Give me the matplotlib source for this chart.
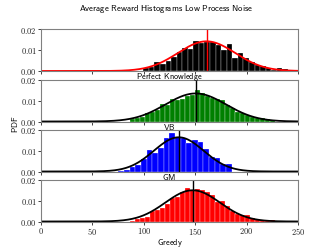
import numpy as np
import matplotlib
matplotlib.use("Agg")
import matplotlib.pyplot as plt

plt.rcParams['font.family'] = ['DejaVu Sans']
plt.rcParams['mathtext.fontset'] = 'cm'

title = "Average Reward Histograms Low Process Noise"
labels = ["Perfect Knowledge", "VB", "GM", "Greedy"]
colors = ["black", "green", "blue", "red"]
line_colors = ["red", "black", "black", "black"]

means = [161.0, 150.5, 134.0, 147.5]
sigmas = [27.9, 29.5, 24.2, 26.5]

bin_starts = [99.5, 86.6, 75.2, 86.6]
bin_widths = [5.41, 4.86, 5.51, 4.86]

heights_pk = [0.0013, 0.0020, 0.0042, 0.0032, 0.0048, 0.0069, 0.0090, 0.0110,
              0.0106, 0.0144, 0.0136, 0.0140, 0.0138, 0.0125, 0.0100, 0.0128,
              0.0061, 0.0085, 0.0064, 0.0042, 0.0030, 0.0024, 0.0013, 0.0005,
              0.0013, 0.0010]
heights_vb = [0.0010, 0.0016, 0.0024, 0.0042, 0.0045, 0.0057, 0.0085, 0.0081,
              0.0107, 0.0102, 0.0110, 0.0124, 0.0130, 0.0154, 0.0135, 0.0122,
              0.0114, 0.0110, 0.0102, 0.0078, 0.0067, 0.0045, 0.0040, 0.0030,
              0.0021, 0.0016, 0.0016, 0.0013, 0.0006]
heights_gm = [0.0002, 0.0006, 0.0020, 0.0033, 0.0060, 0.0106, 0.0090, 0.0114,
              0.0160, 0.0184, 0.0167, 0.0163, 0.0135, 0.0152, 0.0140, 0.0107,
              0.0070, 0.0067, 0.0037, 0.0037]
heights_greedy = [0.0003, 0.0010, 0.0016, 0.0020, 0.0049, 0.0054, 0.0067, 0.0086,
                  0.0114, 0.0119, 0.0140, 0.0163, 0.0154, 0.0156, 0.0151, 0.0143,
                  0.0127, 0.0094, 0.0098, 0.0073, 0.0050, 0.0037, 0.0029, 0.0029,
                  0.0018, 0.0013, 0.0008, 0.0005, 0.0006, 0.0003]
heights = [heights_pk, heights_vb, heights_gm, heights_greedy]

x_ticks = [0, 50, 100, 150, 200, 250]
y_ticks = [0.00, 0.01, 0.02]


def sf(s):
    return r"$\mathsf{" + s.replace(" ", r"\ ") + "}$"


fig = plt.figure(figsize=(3.32, 2.49), dpi=100)
left, right = 41 / 332, 298 / 332
tops = [29.5, 80, 130, 180]
ax_h = 41.5
axes = []
for i in range(4):
    ax = fig.add_axes([left, 1 - (tops[i] + ax_h) / 249, right - left, ax_h / 249])
    axes.append(ax)

xs = np.linspace(0, 250, 500)
for i, ax in enumerate(axes):
    h = np.array(heights[i])
    lefts = bin_starts[i] + bin_widths[i] * np.arange(len(h))
    ax.bar(lefts, h, width=bin_widths[i], align='edge', color=colors[i],
           edgecolor='white', linewidth=0.2)
    pdf = np.exp(-0.5 * ((xs - means[i]) / sigmas[i]) ** 2) / (np.sqrt(2 * np.pi) * sigmas[i])
    ax.plot(xs, pdf, color=line_colors[i], lw=1.3)
    ax.axvline(means[i], color=line_colors[i], lw=1.0)
    ax.set_xlim(0, 250)
    ax.set_ylim(0, 0.02)
    ax.set_xticks(x_ticks)
    ax.set_yticks(y_ticks)
    ax.set_yticklabels([f"${v:.2f}$" for v in y_ticks], fontsize=6)
    if i < 3:
        ax.set_xticklabels([])
    else:
        ax.set_xticklabels([f"${v}$" for v in x_ticks], fontsize=6)
    ax.tick_params(length=2, width=0.6, pad=1.0, colors='#222222')
    for s in ax.spines.values():
        s.set_color('#808080')
        s.set_linewidth(0.8)

for i, ax in enumerate(axes):
    if i < 3:
        fig.text(0.5 * (left + right), 1 - (tops[i] + ax_h + 5.5) / 249, sf(labels[i]),
                 ha='center', va='center', fontsize=6, zorder=0.5)
    else:
        ax.set_xlabel(sf(labels[i]), fontsize=6, labelpad=0.5)

fig.text(0.5, 1 - 9 / 249, sf(title), ha='center', va='center', fontsize=6.3)
fig.text(15 / 332, 0.5, sf("PDF"), rotation=90, ha='center', va='center', fontsize=6)

fig.savefig("out.png", dpi=100)
